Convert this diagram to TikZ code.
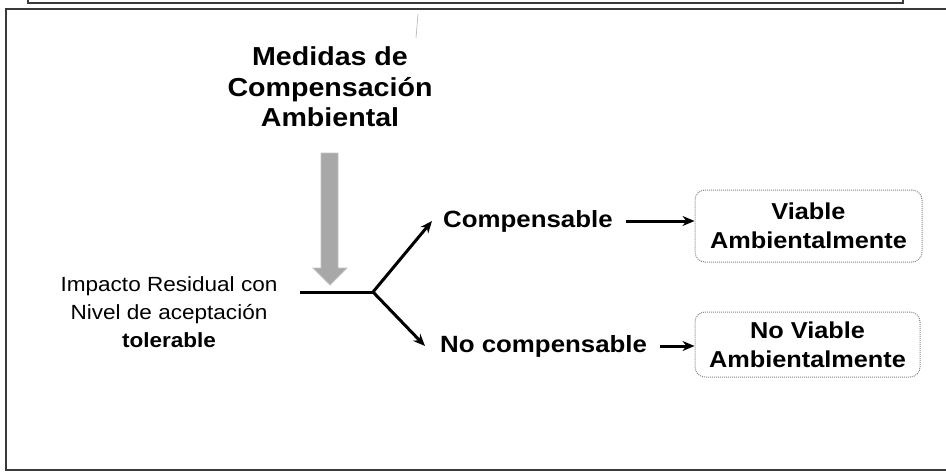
\documentclass[tikz,border=0pt]{standalone}
\usepackage{fontspec}
\setmainfont{Liberation Sans}[FakeStretch=1.1]
\usetikzlibrary{arrows.meta}
\definecolor{framec}{HTML}{3A3A3A}
\definecolor{boxc}{HTML}{8A8A8A}
\definecolor{grayfill}{HTML}{A8A8A8}
\definecolor{grayedge}{HTML}{C4C4C4}
\tikzset{
  frameline/.style={draw=framec, line width=1.8pt},
  titletext/.style={font=\fontsize{26}{30.5}\selectfont\bfseries, align=center, inner sep=0pt},
  lefttext/.style={font=\fontsize{20.5}{28}\selectfont, align=center, inner sep=0pt},
  labeltext/.style={font=\fontsize{23.5}{28}\selectfont\bfseries, inner sep=0pt, anchor=west},
  resultbox/.style={draw=boxc, densely dotted, line width=1pt, rounded corners=10pt,
     font=\fontsize{23}{29}\selectfont\bfseries, align=center, inner sep=0pt},
  blackarrow/.style={draw=black, line width=3pt, -{Stealth[length=12pt,width=10pt]}},
  stem/.style={draw=black, line width=3pt},
  bigarrow/.style={fill=grayfill, draw=grayedge, line width=0.8pt},
}
\begin{document}
\begin{tikzpicture}[x=1pt,y=-1pt]
\useasboundingbox (0,0) rectangle (946,472);
\fill[white] (0,0) rectangle (946,472);
% frames
\draw[frameline] (28,-5) -- (28,3) -- (903,3) -- (903,-5);
\draw[frameline] (960,9) -- (6,9) -- (6,470) -- (960,470);
\draw[gray!60, line width=0.6pt] (418,14) -- (416,38);
% title
\node[titletext] (title) at (330,87) {Medidas de\\Compensación\\Ambiental};
% gray arrow
\path[bigarrow] (321,153) -- (338,153) -- (338,268) -- (347,268) -- (330,285) -- (313,268) -- (321,268) -- cycle;
% left text
\node[lefttext] (imp) at (169,312) {Impacto Residual con\\Nivel de aceptación\\\textbf{tolerable}};
% stem and branch
\coordinate (hs) at (300,292);
\coordinate (br) at (373,292);
\draw[stem] (hs) -- (br);
% labels
\node[labeltext] (comp) at (443,221) {Compensable};
\node[labeltext] (nocomp) at (440,346) {No compensable};
% boxes
\node[resultbox, minimum width=227pt, minimum height=72pt] (vb) at (808.5,226) {Viable\\Ambientalmente};
\node[resultbox, minimum width=225pt, minimum height=65pt] (nvb) at (807.5,344.5) {No Viable\\Ambientalmente};
% arrows
\draw[blackarrow] (br) -- ([xshift=-11pt]comp.west);
\draw[blackarrow] (br) -- ([xshift=-15pt]nocomp.west);
\draw[blackarrow, shorten <=13pt] (comp.east) -- (comp.east -| vb.west);
\draw[blackarrow, shorten <=13pt] (nocomp.east) -- (nocomp.east -| nvb.west);
\end{tikzpicture}
\end{document}
